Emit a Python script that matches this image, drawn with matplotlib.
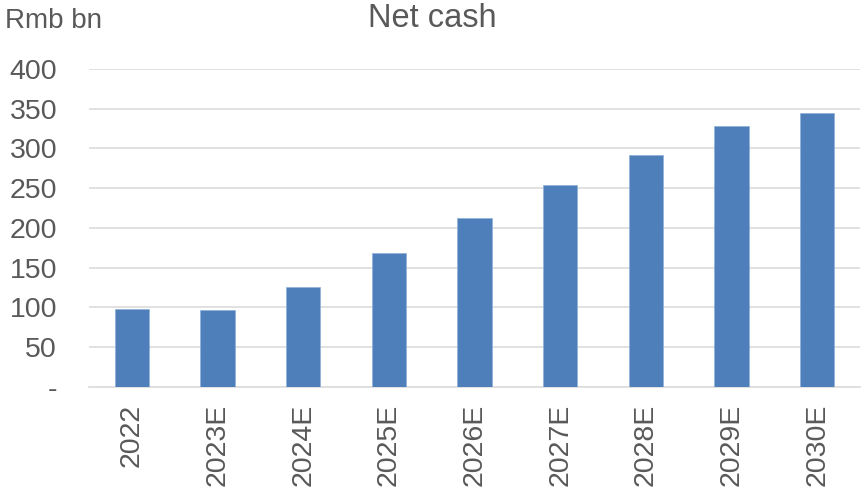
import matplotlib
matplotlib.use("Agg")
import matplotlib.pyplot as plt
import numpy as np

# ── data ─────────────────────────────────────────────────────────────────────
YEARS = ["2022", "2023E", "2024E", "2025E", "2026E", "2027E", "2028E", "2029E", "2030E"]
NET_CASH = [98, 97, 126, 168, 212, 254, 292, 328, 345]
Y_TICKS = [0, 50, 100, 150, 200, 250, 300, 350, 400]
Y_TICK_LABELS = ["-", "50", "100", "150", "200", "250", "300", "350", "400"]

TEXT_GREY = "#595959"
GRID_GREY = "#dedede"
BAR_BLUE = "#4f7fbb"

plt.rcParams["font.family"] = ["Liberation Sans", "DejaVu Sans"]

fig = plt.figure(figsize=(8.65, 4.91), dpi=100)
fig.patch.set_facecolor("white")
ax = fig.add_axes([0.1029, 0.2124, 0.8913, 0.6471])

x = np.arange(len(YEARS))
ax.bar(x, NET_CASH, width=0.4, color=BAR_BLUE, edgecolor="#8fb0d8",
       linewidth=0.5, zorder=3)

ax.set_xlim(-0.5, len(YEARS) - 0.5)
ax.set_ylim(0, 400)
ax.set_yticks(Y_TICKS)
ax.set_yticklabels(Y_TICK_LABELS)
ax.set_xticks(x)
ax.set_xticklabels(YEARS, rotation=90)

# pads in points: ~32 px and ~18 px at 100 dpi
ax.tick_params(axis="y", length=0, pad=23, labelsize=20.5, labelcolor=TEXT_GREY)
ax.tick_params(axis="x", length=0, pad=12, labelsize=20.5, labelcolor=TEXT_GREY)
for lbl in ax.get_xticklabels():
    lbl.set_verticalalignment("top")

ax.grid(axis="y", color=GRID_GREY, linewidth=1.3, zorder=0)
for side in ["top", "right", "left"]:
    ax.spines[side].set_visible(False)
ax.spines["bottom"].set_color(GRID_GREY)
ax.spines["bottom"].set_linewidth(1.3)

fig.text(0.5, 0.963, "Net cash", ha="center", va="center",
         fontsize=23.5, color=TEXT_GREY)
fig.text(0.006, 0.958, "Rmb bn", ha="left", va="center",
         fontsize=20, color=TEXT_GREY)

fig.savefig("out.png", dpi=100, facecolor="white")
